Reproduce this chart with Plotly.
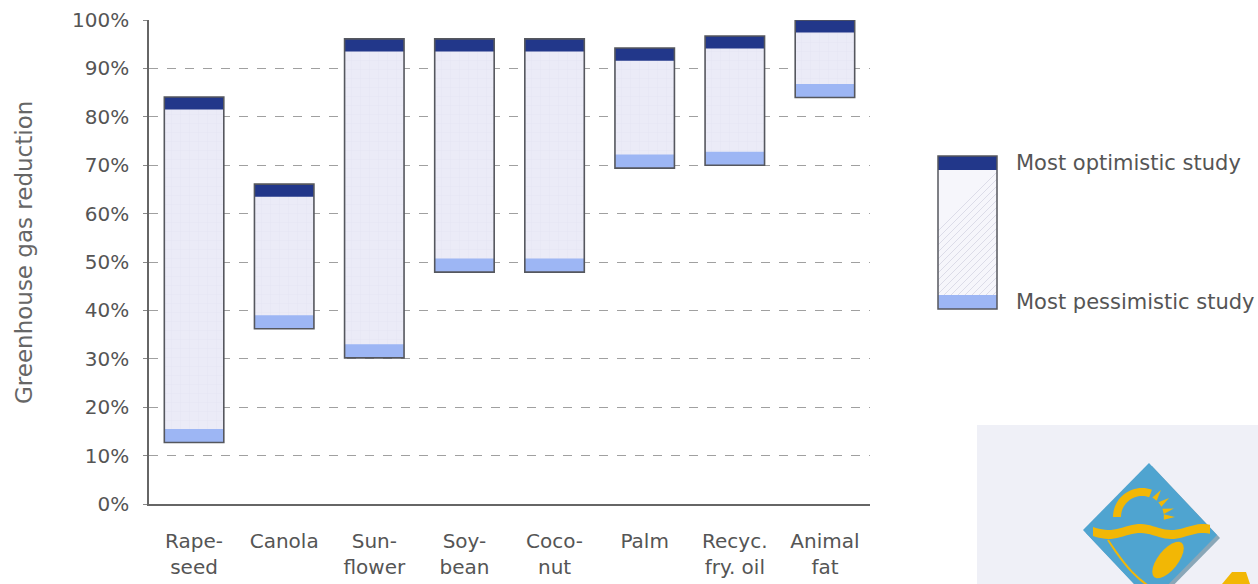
import math
import plotly.graph_objects as go

# ---------------- data ----------------
categories = ["Rape-<br>seed", "Canola", "Sun-<br>flower", "Soy-<br>bean",
              "Coco-<br>nut", "Palm", "Recyc.<br>fry. oil", "Animal<br>fat"]
low_pct = [12.7, 36.2, 30.2, 47.9, 47.9, 69.4, 70.0, 84.0]     # most pessimistic study
high_pct = [84.1, 66.1, 96.1, 96.1, 96.1, 94.2, 96.7, 100.0]  # most optimistic study
y_tick_vals = [0, 10, 20, 30, 40, 50, 60, 70, 80, 90, 100]
y_tick_text = [f"{v}%" for v in y_tick_vals]
legend_labels = ["Most optimistic study", "Most pessimistic study"]
y_title = "Greenhouse gas reduction"

# ---------------- style ----------------
W, H = 1258, 584
ML, MR, MT, MB = 149, W - 870, 20, H - 504
CAP = 2.6       # thickness of the dark "optimistic" cap (in % units)
BAND = 2.8      # thickness of the light "pessimistic" band
BAR_W = 0.66
DARK = "#22378a"
LIGHT = "#9db6f4"
BODY = "#ebebf7"
EDGE = "#55575e"
TXT = "#555555"
FONT = "DejaVu Sans, Liberation Sans, Arial, sans-serif"


def px(x, y):
    """pixel -> paper coordinates"""
    return (x - ML) / (W - ML - MR), (H - MB - y) / (H - MT - MB)


fig = go.Figure()
span = [h - l for h, l in zip(high_pct, low_pct)]
n = len(categories)

fig.add_bar(x=categories, y=span, base=low_pct, width=BAR_W,
            marker=dict(color=BODY, line=dict(width=0),
                        pattern=dict(shape="+", fgcolor="#dfdff0", bgcolor=BODY,
                                     size=9, solidity=0.12)),
            hoverinfo="skip", showlegend=False)
fig.add_bar(x=categories, y=[BAND] * n, base=low_pct, width=BAR_W,
            marker=dict(color=LIGHT, line=dict(width=0)), showlegend=False)
fig.add_bar(x=categories, y=[CAP] * n, base=[h - CAP for h in high_pct], width=BAR_W,
            marker=dict(color=DARK, line=dict(width=0)), showlegend=False)
fig.add_bar(x=categories, y=span, base=low_pct, width=BAR_W,
            marker=dict(color="rgba(0,0,0,0)", line=dict(color=EDGE, width=1.6)),
            showlegend=False)

shapes = []
annotations = []

# ---------------- custom legend ----------------
lx0, lx1, ly0, ly1 = 938, 997, 156, 309
x0, y0 = px(lx0, ly1)
x1, y1 = px(lx1, ly0)
shapes.append(dict(type="rect", xref="paper", yref="paper", x0=x0, x1=x1, y0=y0, y1=y1,
                   fillcolor="#f6f6fb", line=dict(width=0), layer="above"))


def clip(p, q):
    (pxa, pya), (pxb, pyb) = p, q
    if pya > ly1:
        t = (pya - ly1) / (pya - pyb)
        pxa, pya = pxa + t * (pxb - pxa), ly1
    if pyb < ly0:
        t = (ly0 - pyb) / (pya - pyb)
        pxb, pyb = pxb - t * (pxb - pxa), ly0
    return (pxa, pya), (pxb, pyb)


step = 7
for k in range(-160, 80, step):
    ax, ay = lx0, ly1 - k
    bx, by = lx1, ly1 - (lx1 - lx0) - k
    if min(ay, by) > ly1 or max(ay, by) < ly0:
        continue
    (cax, cay), (cbx, cby) = clip((ax, ay), (bx, by))
    if cax >= cbx:
        continue
    p0 = px(cax, cay)
    p1 = px(cbx, cby)
    shapes.append(dict(type="line", xref="paper", yref="paper", x0=p0[0], y0=p0[1],
                       x1=p1[0], y1=p1[1], line=dict(color="#dcdce8", width=1), layer="above"))
cx0, cy0 = px(lx0, ly0 + 14)
shapes.append(dict(type="rect", xref="paper", yref="paper", x0=x0, x1=x1, y0=cy0, y1=y1,
                   fillcolor=DARK, line=dict(width=0), layer="above"))
bx0, by1 = px(lx0, ly1 - 14)
shapes.append(dict(type="rect", xref="paper", yref="paper", x0=x0, x1=x1, y0=y0, y1=by1,
                   fillcolor=LIGHT, line=dict(width=0), layer="above"))
shapes.append(dict(type="rect", xref="paper", yref="paper", x0=x0, x1=x1, y0=y0, y1=y1,
                   fillcolor="rgba(0,0,0,0)", line=dict(color=EDGE, width=1.5), layer="above"))

for label, yy in zip(legend_labels, (163, 302)):
    ax_, ay_ = px(1014, yy)
    annotations.append(dict(text=label, xref="paper", yref="paper", x=ax_, y=ay_,
                            xanchor="left", yanchor="middle", showarrow=False,
                            font=dict(size=21, color=TXT, family=FONT)))

# y-axis title
tx, ty = px(24, 253)
annotations.append(dict(text=y_title, xref="paper", yref="paper", x=tx, y=ty, textangle=-90,
                        xanchor="center", yanchor="middle", showarrow=False,
                        font=dict(size=23, color="#666666", family=FONT)))


# ---------------- decorative logo (bottom right) ----------------
def path_from(points, close=True):
    s = ""
    for i, (x, y) in enumerate(points):
        a, b = px(x, y)
        s += ("M" if i == 0 else "L") + f"{a:.5f},{b:.5f} "
    return s + ("Z" if close else "")


def logo_shape(points, fill, close=True, line=None):
    d = dict(type="path", xref="paper", yref="paper", path=path_from(points, close),
             layer="above", line=line if line else dict(width=0))
    if close:
        d["fillcolor"] = fill
    shapes.append(d)


logo_shape([(977, 425), (1258, 425), (1258, 584), (977, 584)], "#eff0f7")
logo_shape([(1152, 466), (1220, 538), (1154, 605), (1086, 533)], "#8aa7b8")  # shadow
logo_shape([(1149, 463), (1217, 535), (1151, 602), (1083, 530)], "#4fa4d0")
# sun ring
cx, cy, ro, ri = 1142, 517, 29, 21
ring = [(cx + ro * math.cos(math.radians(a)), cy - ro * math.sin(math.radians(a))) for a in range(70, 181, 5)]
ring += [(cx + ri * math.cos(math.radians(a)), cy - ri * math.sin(math.radians(a))) for a in range(180, 69, -5)]
logo_shape(ring, "#f2b705")
# rays
for a in (55, 35, 15, 0):
    r1, r2, hw = 22, 33, 7
    base1 = (cx + r1 * math.cos(math.radians(a - hw)), cy - r1 * math.sin(math.radians(a - hw)))
    base2 = (cx + r1 * math.cos(math.radians(a + hw)), cy - r1 * math.sin(math.radians(a + hw)))
    tip = (cx + r2 * math.cos(math.radians(a)), cy - r2 * math.sin(math.radians(a)))
    logo_shape([base1, tip, base2], "#f2b705")
# wave
top = [(x, 527 + 3 * math.sin((x - 1093) / 10.0)) for x in range(1093, 1212, 3)]
bot = [(x, 536 + 3 * math.sin((x - 1093) / 10.0)) for x in range(1210, 1092, -3)]
logo_shape(top + bot, "#f2b705")
# stem
stem = [(1108 + t * 40, 540 + 45 * t + 5 * math.sin(t * 3)) for t in [i / 10 for i in range(11)]]
logo_shape(stem, None, close=False, line=dict(color="#f2b705", width=2))
# leaf
leaf = [(1168 + 22 * math.cos(math.radians(a)) * math.cos(0.9) - 10 * math.sin(math.radians(a)) * math.sin(0.9),
         560 - 22 * math.cos(math.radians(a)) * math.sin(0.9) - 10 * math.sin(math.radians(a)) * math.cos(0.9))
        for a in range(0, 360, 15)]
logo_shape(leaf, "#f2b705")
logo_shape([(1222, 584), (1232, 572), (1246, 572), (1250, 584)], "#f2b705")

fig.update_layout(
    width=W, height=H,
    margin=dict(l=ML, r=MR, t=MT, b=MB),
    paper_bgcolor="white", plot_bgcolor="white",
    barmode="overlay", bargap=0.34,
    showlegend=False,
    font=dict(family=FONT, color=TXT, size=20),
    shapes=shapes, annotations=annotations,
    xaxis=dict(showgrid=False, showline=True, linecolor="#666666", linewidth=1.5,
               ticks="", tickfont=dict(size=20, color=TXT, family=FONT), ticklabelstandoff=18,
               zeroline=False, fixedrange=True, automargin=False),
    yaxis=dict(range=[0, 100], tickvals=y_tick_vals, ticktext=y_tick_text,
               showgrid=True, gridcolor="#a0a0a0", griddash="dash", gridwidth=1,
               showline=True, linecolor="#666666", linewidth=1.5,
               ticks="outside", ticklen=4, tickcolor="#888888",
               tickfont=dict(size=20, color=TXT, family=FONT), ticklabelstandoff=10,
               zeroline=False, fixedrange=True, automargin=False),
)

fig.write_html("out.html")
